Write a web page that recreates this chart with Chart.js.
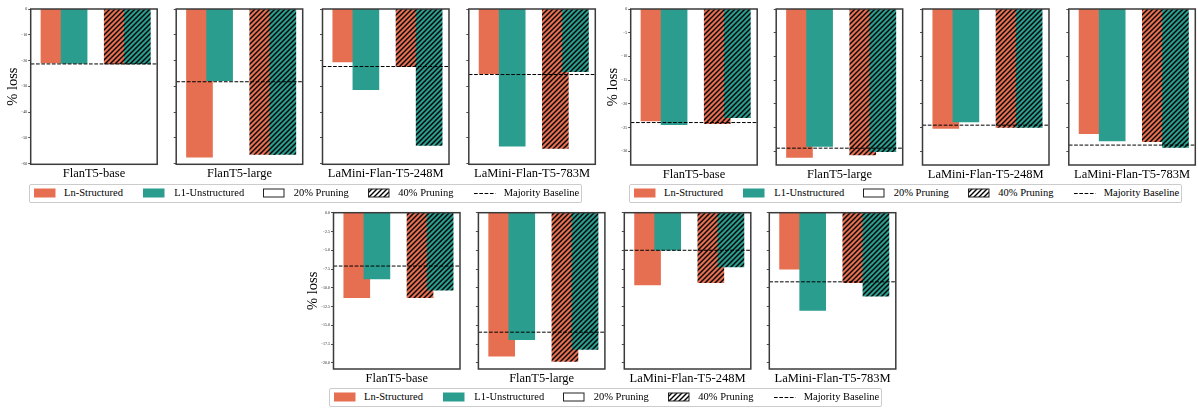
<!DOCTYPE html>
<html>
<head>
<meta charset="utf-8">
<title>% loss after pruning</title>
<script src="https://cdn.jsdelivr.net/npm/chart.js@4.4.1/dist/chart.umd.min.js"></script>
<style>
  html, body { margin: 0; padding: 0; background: #fff; }
  body { position: relative; width: 1198px; height: 409px; overflow: hidden;
         font-family: "Liberation Serif", "Times New Roman", serif; color: #000; }
  canvas.panel { position: absolute; }
  .legend { position: absolute; box-sizing: border-box; border: 1px solid #cccccc;
            border-radius: 2px; background: #fff; }
  .legend > * { position: absolute; }
  .legend span { font-size: 10.5px; line-height: 16px; white-space: nowrap; top: 0; }
</style>
</head>
<body>
<script>
// ---- categories and labels ----
const MODELS = ['FlanT5-base', 'FlanT5-large', 'LaMini-Flan-T5-248M', 'LaMini-Flan-T5-783M'];
const METHODS = ['Ln-Structured', 'L1-Unstructured'];
const LEVELS = ['20% Pruning', '40% Pruning'];
const BASELINE_LABEL = 'Majority Baseline';
const Y_TITLE = '% loss';

// ---- first results set ----
const S1_LN_20 = [-20.9, -57.4, -20.5, -25.1];
const S1_L1_20 = [-21.1, -27.8, -31.3, -53.2];
const S1_LN_40 = [-21.3, -56.4, -22.4, -54.0];
const S1_L1_40 = [-21.3, -56.4, -52.9, -24.3];
const S1_BASE  = [-21.3, -28.2, -22.3, -25.4];
const S1_TICKS = [0, -10, -20, -30, -40, -50, -60];
const S1_TICK_LABELS = ['0', '\u221210', '\u221220', '\u221230', '\u221240', '\u221250', '\u221260'];
const S1_Y_MIN = -60.2;

// ---- second results set ----
const S2_LN_20 = [-23.6, -31.3, -25.2, -26.3];
const S2_L1_20 = [-24.4, -29.0, -23.8, -27.8];
const S2_LN_40 = [-24.2, -30.75, -25.0, -28.0];
const S2_L1_40 = [-22.9, -30.1, -25.0, -29.2];
const S2_BASE  = [-23.95, -29.35, -24.5, -28.7];
const S2_TICKS = [0, -5, -10, -15, -20, -25, -30];
const S2_TICK_LABELS = ['0', '\u22125', '\u221210', '\u221215', '\u221220', '\u221225', '\u221230'];
const S2_Y_MIN = -32.9;

// ---- third results set ----
const S3_LN_20 = [-11.3, -19.1, -9.6, -7.5];
const S3_L1_20 = [-8.8, -16.9, -5.0, -13.0];
const S3_LN_40 = [-11.3, -19.8, -9.3, -9.3];
const S3_L1_40 = [-10.3, -18.2, -7.2, -11.1];
const S3_BASE  = [-7.1, -15.9, -5.0, -9.2];
const S3_TICKS = [0, -2.5, -5, -7.5, -10, -12.5, -15, -17.5, -20];
const S3_TICK_LABELS = ['0.0', '\u22122.5', '\u22125.0', '\u22127.5', '\u221210.0', '\u221212.5', '\u221215.0', '\u221217.5', '\u221220.0'];
const S3_Y_MIN = -20.8;

// ---- styling ----
const COLOR_LN = '#e76f51';
const COLOR_L1 = '#2a9d8f';
const FRAME_COLOR = '#3b3b3b';
const LEVEL_POS = [0, 1];          // x position of the 20% / 40% pair
const METHOD_SHIFT = 0.159;        // each method bar sits this far either side of the pair centre
const X_MIN = -0.527, X_MAX = 1.473;
const BAR_PX = 26;
const PANEL_W = 126.5;
const X_AXIS_H = 16.8;

Chart.defaults.font.family = '"Liberation Serif", "Times New Roman", serif';
Chart.defaults.color = '#000';
Chart.defaults.animation = false;

function hatchPattern(base) {
  const s = 5;
  const tile = document.createElement('canvas');
  tile.width = s; tile.height = s;
  const g = tile.getContext('2d');
  g.fillStyle = base;
  g.fillRect(0, 0, s, s);
  g.strokeStyle = '#000';
  g.lineWidth = 1.4;
  g.beginPath();
  g.moveTo(-1, s + 1); g.lineTo(s + 1, -1);
  g.moveTo(-1, 1); g.lineTo(1, -1);
  g.moveTo(s - 1, s + 1); g.lineTo(s + 1, s - 1);
  g.stroke();
  return g.createPattern(tile, 'repeat');
}
const HATCH_LN = hatchPattern(COLOR_LN);
const HATCH_L1 = hatchPattern(COLOR_L1);
const HATCH_WHITE = hatchPattern('#ffffff');

// box around every plot area
const framePlugin = {
  id: 'frame',
  afterDraw(chart) {
    const a = chart.chartArea, c = chart.ctx;
    c.save();
    c.strokeStyle = FRAME_COLOR;
    c.lineWidth = 1.5;
    c.strokeRect(a.left, a.top, a.right - a.left, a.bottom - a.top);
    c.restore();
  }
};

const GROUPS = [
  { ln20: S1_LN_20, l120: S1_L1_20, ln40: S1_LN_40, l140: S1_L1_40, base: S1_BASE,
    ticks: S1_TICKS, tickLabels: S1_TICK_LABELS, yMin: S1_Y_MIN },
  { ln20: S2_LN_20, l120: S2_L1_20, ln40: S2_LN_40, l140: S2_L1_40, base: S2_BASE,
    ticks: S2_TICKS, tickLabels: S2_TICK_LABELS, yMin: S2_Y_MIN },
  { ln20: S3_LN_20, l120: S3_L1_20, ln40: S3_LN_40, l140: S3_L1_40, base: S3_BASE,
    ticks: S3_TICKS, tickLabels: S3_TICK_LABELS, yMin: S3_Y_MIN }
];

const LAYOUT = [
  { lefts: [30.7, 176.2, 322.5, 468.8], top: 9, height: 155.3, gutter: 26.8, legend: { left: 29.3, top: 184.3 } },
  { lefts: [630.7, 776.2, 922.5, 1068.8], top: 9, height: 156, gutter: 26.8, legend: { left: 629.3, top: 184.3 } },
  { lefts: [333.5, 478.4, 624.3, 769.3], top: 212.7, height: 156.3, gutter: 29.6, legend: { left: 329.3, top: 388.3 } }
];

const LEGEND_BOX = { width: 552.4, height: 18.4,
  handles: [4, 113, 232.7, 338, 443.4], texts: [33.7, 144, 263.4, 368, 473.4] };

function makePanel(group, lay, m) {
  const first = m === 0;
  const panelLeft = lay.lefts[m];
  const canvasLeft = Math.round(panelLeft - lay.gutter);
  const yWidth = panelLeft - canvasLeft;
  const canvasTop = Math.floor(lay.top - 4);
  const padTop = lay.top - canvasTop;
  const cw = Math.ceil(yWidth + PANEL_W + 3);
  const ch = Math.ceil(padTop + lay.height + X_AXIS_H + 1);
  const padRight = cw - yWidth - PANEL_W;
  const padBottom = ch - padTop - lay.height - X_AXIS_H;

  const canvas = document.createElement('canvas');
  canvas.className = 'panel';
  canvas.width = cw; canvas.height = ch;
  canvas.style.left = canvasLeft + 'px';
  canvas.style.top = canvasTop + 'px';
  canvas.style.width = cw + 'px';
  canvas.style.height = ch + 'px';
  document.body.appendChild(canvas);

  new Chart(canvas, {
    type: 'bar',
    data: {
      datasets: [
        {
          label: METHODS[0], order: 2, grouped: false, barThickness: BAR_PX,
          data: LEVEL_POS.map((p, i) => ({ x: p - METHOD_SHIFT, y: [group.ln20, group.ln40][i][m] })),
          backgroundColor: [COLOR_LN, HATCH_LN], borderWidth: 0
        },
        {
          label: METHODS[1], order: 1, grouped: false, barThickness: BAR_PX,
          data: LEVEL_POS.map((p, i) => ({ x: p + METHOD_SHIFT, y: [group.l120, group.l140][i][m] })),
          backgroundColor: [COLOR_L1, HATCH_L1], borderWidth: 0
        },
        {
          type: 'line', label: BASELINE_LABEL, order: 0,
          data: [{ x: X_MIN, y: group.base[m] }, { x: X_MAX, y: group.base[m] }],
          borderColor: '#000', borderWidth: 1, borderDash: [3.7, 1.6],
          pointRadius: 0, fill: false, tension: 0
        }
      ]
    },
    options: {
      responsive: false,
      maintainAspectRatio: false,
      animation: false,
      devicePixelRatio: 1,
      layout: { padding: { left: 0, top: padTop, right: padRight, bottom: padBottom } },
      plugins: { legend: { display: false }, tooltip: { enabled: false } },
      scales: {
        x: {
          type: 'linear', min: X_MIN, max: X_MAX, offset: false,
          ticks: { display: false },
          grid: { display: false },
          border: { display: false },
          title: { display: true, text: MODELS[m], color: '#000', font: { size: 12.5 }, padding: 0 },
          afterFit: s => { s.height = X_AXIS_H; }
        },
        y: {
          type: 'linear', min: group.yMin, max: 0,
          afterBuildTicks: s => { s.ticks = group.ticks.map(v => ({ value: v })); },
          ticks: {
            autoSkip: false, padding: 1, color: '#222', font: { size: 4 },
            callback: (v, i) => first ? group.tickLabels[i] : ''
          },
          grid: { drawOnChartArea: false, drawTicks: true, tickLength: 2.5, color: '#222', lineWidth: 0.8 },
          border: { display: false },
          title: { display: first, text: Y_TITLE, color: '#000', font: { size: 14.5 }, padding: 0 },
          afterFit: s => { s.width = yWidth; }
        }
      }
    },
    plugins: [framePlugin]
  });
}

function swatch(x, draw) {
  const c = document.createElement('canvas');
  c.width = 22; c.height = 10;
  c.style.left = x + 'px';
  c.style.top = '2.5px';
  c.style.width = '22px'; c.style.height = '10px';
  draw(c.getContext('2d'));
  return c;
}

function makeLegend(pos) {
  const box = document.createElement('div');
  box.className = 'legend';
  box.style.left = pos.left + 'px';
  box.style.top = pos.top + 'px';
  box.style.width = LEGEND_BOX.width + 'px';
  box.style.height = LEGEND_BOX.height + 'px';
  const entries = [
    { text: METHODS[0], draw: g => { g.fillStyle = COLOR_LN; g.fillRect(0, 0.5, 21.5, 9); } },
    { text: METHODS[1], draw: g => { g.fillStyle = COLOR_L1; g.fillRect(0, 0.5, 21.5, 9); } },
    { text: LEVELS[0], draw: g => { g.fillStyle = '#fff'; g.fillRect(0.5, 1, 20.5, 8);
        g.strokeStyle = '#222'; g.lineWidth = 1; g.strokeRect(0.5, 1, 20.5, 8); } },
    { text: LEVELS[1], draw: g => { g.fillStyle = HATCH_WHITE; g.fillRect(0.5, 1, 20.5, 8);
        g.strokeStyle = '#222'; g.lineWidth = 1; g.strokeRect(0.5, 1, 20.5, 8); } },
    { text: BASELINE_LABEL, draw: g => { g.strokeStyle = '#000'; g.lineWidth = 1; g.setLineDash([3.7, 1.6]);
        g.beginPath(); g.moveTo(0, 5.5); g.lineTo(21.5, 5.5); g.stroke(); } }
  ];
  entries.forEach((e, i) => {
    box.appendChild(swatch(LEGEND_BOX.handles[i], e.draw));
    const t = document.createElement('span');
    t.textContent = e.text;
    t.style.left = LEGEND_BOX.texts[i] + 'px';
    box.appendChild(t);
  });
  document.body.appendChild(box);
}

GROUPS.forEach((g, gi) => {
  MODELS.forEach((_, m) => makePanel(g, LAYOUT[gi], m));
  makeLegend(LAYOUT[gi].legend);
});
</script>
</body>
</html>
